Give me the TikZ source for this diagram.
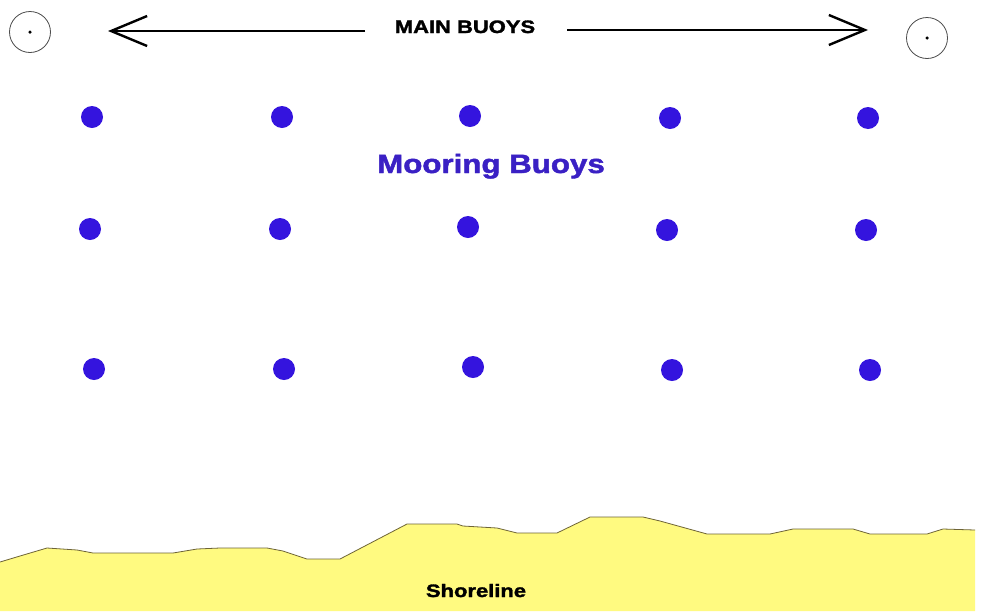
\documentclass[tikz,border=0pt]{standalone}
\usepackage{fontspec}
\setmainfont{Liberation Sans}
\newfontfamily\heavyfont[UprightFeatures={FakeBold=1.6},BoldFeatures={FakeBold=1.6}]{Liberation Sans}
\usetikzlibrary{arrows.meta}
\definecolor{buoyblue}{RGB}{52,20,222}
\definecolor{textblue}{RGB}{58,32,196}
\definecolor{sand}{RGB}{255,250,128}
\definecolor{shoreedge}{RGB}{110,100,55}
\tikzset{
  mooring/.style={circle,fill=buoyblue,inner sep=0pt,minimum size=22pt},
  mainbuoy/.style={circle,draw=black!70,line width=0.8pt,inner sep=0pt,minimum size=41pt},
  centerdot/.style={circle,fill=black,inner sep=0pt,minimum size=3.5pt},
  bigarrow/.style={line width=2.2pt,-{Straight Barb[length=36pt,width=30pt,line width=2.4pt]}},
  label/.style={inner sep=0pt,anchor=base}
}
\begin{document}
\begin{tikzpicture}[x=1pt,y=-1pt]
\useasboundingbox (0,0) rectangle (984,611);
\fill[white] (0,0) rectangle (984,611);
% shore
\fill[sand] (0,562) -- (20,556) -- (47,548) -- (77,550) -- (93,553) -- (173,553) -- (197,549) -- (220,548) -- (267,548) -- (283,551) -- (307,559) -- (340,559) -- (407,524) -- (457,524) -- (463,526) -- (497,528) -- (517,533) -- (557,533) -- (590,517) -- (643,517) -- (660,521) -- (707,534) -- (770,534) -- (793,529) -- (853,529) -- (870,534) -- (927,534) -- (943,529) -- (975,530) -- (975,611) -- (0,611) -- cycle;
\draw[shoreedge,line width=0.8pt]
 (0,562) -- (20,556) -- (47,548) -- (77,550) -- (93,553) -- (173,553) -- (197,549) -- (220,548) -- (267,548) -- (283,551) -- (307,559) -- (340,559) -- (407,524) -- (457,524) -- (463,526) -- (497,528) -- (517,533) -- (557,533) -- (590,517) -- (643,517) -- (660,521) -- (707,534) -- (770,534) -- (793,529) -- (853,529) -- (870,534) -- (927,534) -- (943,529) -- (975,530);
\node[label] (shore) at (476,597) {\fontsize{18}{20}\heavyfont\bfseries\scalebox{1.22}[1]{Shoreline}};
% main buoys
\node[mainbuoy] (mbl) at (30,32) {};
\node[centerdot] (mbldot) at (30,32) {};
\node[mainbuoy] (mbr) at (927,38) {};
\node[centerdot] (mbrdot) at (927,38) {};
\node[label] (main) at (465,33) {\fontsize{18}{20}\heavyfont\bfseries\scalebox{1.22}[1]{MAIN BUOYS}};
\coordinate (lstart) at (365,31);
\coordinate (ltip) at (108,31);
\coordinate (rstart) at (567,30);
\coordinate (rtip) at (868,30);
\draw[bigarrow] (lstart) -- (ltip);
\draw[bigarrow] (rstart) -- (rtip);
% mooring buoys
\node[label,text=textblue] (moor) at (491,173) {\fontsize{26.5}{28}\heavyfont\bfseries\scalebox{1.18}[1]{Mooring Buoys}};
\node[mooring] (b11) at (92,117) {};
\node[mooring] (b12) at (282,117) {};
\node[mooring] (b13) at (470,116) {};
\node[mooring] (b14) at (670,118) {};
\node[mooring] (b15) at (868,118) {};
\node[mooring] (b21) at (90,229) {};
\node[mooring] (b22) at (280,229) {};
\node[mooring] (b23) at (468,227) {};
\node[mooring] (b24) at (667,230) {};
\node[mooring] (b25) at (866,230) {};
\node[mooring] (b31) at (94,369) {};
\node[mooring] (b32) at (284,369) {};
\node[mooring] (b33) at (473,367) {};
\node[mooring] (b34) at (672,370) {};
\node[mooring] (b35) at (870,370) {};
\end{tikzpicture}
\end{document}
